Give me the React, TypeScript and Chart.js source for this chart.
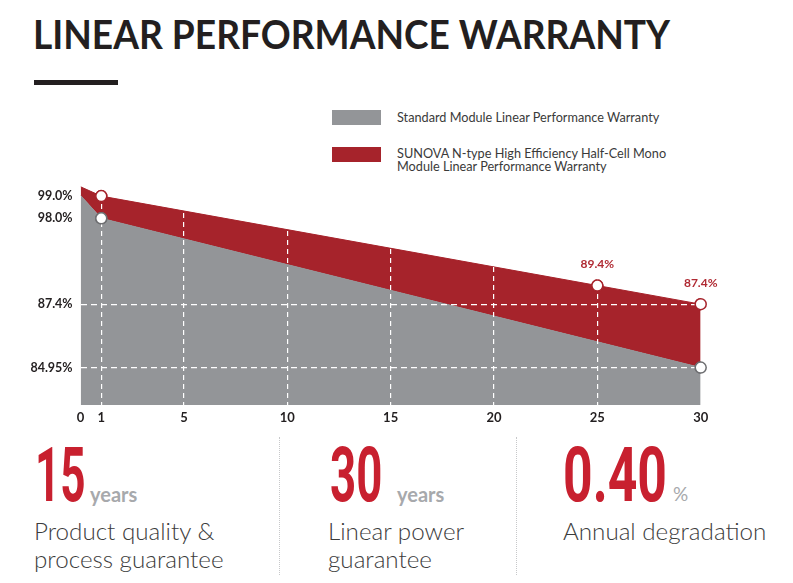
import React, { useEffect, useRef } from "react";
import { Chart, registerables } from "chart.js";

Chart.register(...registerables);

// ---- data ----
const sunovaYears = [0, 1, 25, 30];
const sunovaValues = [100, 99, 89.4, 87.4];
const sunovaPointLabels = ["", "", "89.4%", "87.4%"];
const standardYears = [0, 1, 30];
const standardValues = [100, 98, 84.95];
const xTickValues = [0, 1, 5, 10, 15, 20, 25, 30];
const sunovaTickValues = [99, 87.4];
const sunovaTickLabels = ["99.0%", "87.4%"];
const standardTickValues = [98, 84.95];
const standardTickLabels = ["98.0%", "84.95%"];
const legendLabels = [
  "Standard Module Linear Performance Warranty",
  "SUNOVA N-type High Efficiency Half-Cell Mono Module Linear Performance Warranty",
];
const statValues = ["15", "30", "0.40"];
const statUnits = ["years", "years", "%"];
const statLabels = [
  ["Product quality &", "process guarantee"],
  ["Linear power", "guarantee"],
  ["Annual degradation"],
];

const GRAY = "#939598";
const RED = "#a6232b";
const INK = "#231f20";

const overlayPlugin = {
  id: "overlay",
  afterDraw(chart: any) {
    const ctx = chart.ctx;
    const area = chart.chartArea;
    // markers on top of the grid
    chart.data.datasets.forEach((_: any, i: number) => {
      chart
        .getDatasetMeta(i)
        .data.forEach((p: any) => p.draw(ctx, { left: 0, top: 0, right: chart.width, bottom: chart.height }));
    });
    ctx.save();
    ctx.font = "bold 12.5px Lato";
    ctx.fillStyle = INK;
    ctx.textAlign = "right";
    ctx.textBaseline = "middle";
    sunovaTickValues.forEach((v, i) =>
      ctx.fillText(sunovaTickLabels[i], area.left - 8, chart.scales.ySun.getPixelForValue(v))
    );
    standardTickValues.forEach((v, i) =>
      ctx.fillText(standardTickLabels[i], area.left - 8, chart.scales.yStd.getPixelForValue(v))
    );
    ctx.font = "bold 12px Lato";
    ctx.fillStyle = "#b02a33";
    ctx.textAlign = "center";
    chart.getDatasetMeta(1).data.forEach((p: any, i: number) => {
      if (sunovaPointLabels[i]) ctx.fillText(sunovaPointLabels[i], p.x, p.y - 21);
    });
    ctx.restore();
  },
};

function WarrantyChart() {
  const ref = useRef<HTMLCanvasElement>(null);
  useEffect(() => {
    if (!ref.current) return;
    Chart.defaults.font.family = "Lato";
    const chart = new Chart(ref.current, {
      type: "line",
      data: {
        datasets: [
          {
            label: legendLabels[0],
            data: standardYears.map((x, i) => ({ x, y: standardValues[i] })),
            yAxisID: "yStd",
            backgroundColor: GRAY,
            borderColor: GRAY,
            borderWidth: 1,
            fill: "start",
            tension: 0,
            pointRadius: (c: any) => (c.dataIndex === 0 ? 0 : 5.5),
            pointBackgroundColor: "#ffffff",
            pointBorderColor: "#6d6e71",
            pointBorderWidth: 1.5,
          },
          {
            label: legendLabels[1],
            data: sunovaYears.map((x, i) => ({ x, y: sunovaValues[i] })),
            yAxisID: "ySun",
            backgroundColor: RED,
            borderColor: RED,
            borderWidth: 1,
            fill: 0,
            tension: 0,
            pointRadius: (c: any) => (c.dataIndex === 0 ? 0 : 5.5),
            pointBackgroundColor: "#ffffff",
            pointBorderColor: RED,
            pointBorderWidth: 1.5,
          },
        ],
      },
      options: {
        animation: false,
        responsive: false,
        events: [],
        layout: { padding: { left: 80.6, right: 92.3, top: 5, bottom: 0 } },
        plugins: { legend: { display: false }, tooltip: { enabled: false } },
        scales: {
          x: {
            type: "linear",
            min: 0,
            max: 30,
            afterBuildTicks: (s: any) => {
              s.ticks = xTickValues.map((value) => ({ value }));
            },
            afterFit: (s: any) => {
              s.height = 25;
            },
            ticks: {
              autoSkip: false,
              maxRotation: 0,
              padding: 5,
              color: INK,
              font: { family: "Lato", size: 13, weight: "bold" },
              callback: (v: any) => String(v),
            },
            grid: {
              z: 1,
              drawTicks: false,
              lineWidth: 1.2,
              color: (c: any) =>
                c.tick && (c.tick.value === 0 || c.tick.value === 30) ? "rgba(0,0,0,0)" : "#ffffff",
            },
            border: { display: false, dash: [5, 4] },
          },
          ySun: {
            type: "linear",
            position: "left",
            min: 76.58,
            max: 101.05,
            afterBuildTicks: (s: any) => {
              s.ticks = sunovaTickValues.map((value) => ({ value }));
            },
            afterFit: (s: any) => {
              s.width = 0;
            },
            ticks: { display: false },
            grid: {
              z: 1,
              drawTicks: false,
              lineWidth: 1.2,
              color: (c: any) => (c.tick && c.tick.value === 87.4 ? "#ffffff" : "rgba(0,0,0,0)"),
            },
            border: { display: false, dash: [6, 4] },
          },
          yStd: {
            type: "linear",
            position: "left",
            min: 81.68,
            max: 101.61,
            afterBuildTicks: (s: any) => {
              s.ticks = standardTickValues.map((value) => ({ value }));
            },
            afterFit: (s: any) => {
              s.width = 0;
            },
            ticks: { display: false },
            grid: {
              z: 1,
              drawTicks: false,
              lineWidth: 1.2,
              color: (c: any) => (c.tick && c.tick.value === 84.95 ? "#ffffff" : "rgba(0,0,0,0)"),
            },
            border: { display: false, dash: [6, 4] },
          },
        },
      },
      plugins: [overlayPlugin],
    } as any);
    return () => chart.destroy();
  }, []);
  return (
    <canvas
      ref={ref}
      width={793}
      height={260}
      style={{ position: "absolute", left: 0, top: 170, width: 793, height: 260 }}
    />
  );
}

const statLeft = [35, 330, 563];
const statScale = [0.58, 0.6, 0.68];
const unitLeft = [90, 397, 673];
const labelLeft = [34, 328, 563];

export default function App() {
  return (
    <div
      style={{
        position: "absolute",
        left: 0,
        top: 0,
        width: 793,
        height: 583,
        overflow: "hidden",
        background: "#ffffff",
        fontFamily: "Lato, sans-serif",
      }}
    >
      <div
        style={{
          position: "absolute",
          left: 33,
          top: 8.8,
          fontFamily: "Lato",
          fontWeight: 700,
          fontSize: 41,
          lineHeight: 1.2,
          color: INK,
          whiteSpace: "nowrap",
          transform: "scaleX(0.905)",
          transformOrigin: "left top",
        }}
      >
        LINEAR PERFORMANCE WARRANTY
      </div>
      <div style={{ position: "absolute", left: 34, top: 80, width: 84, height: 5, background: INK }} />

      <div style={{ position: "absolute", left: 332, top: 110, width: 49, height: 15, background: GRAY }} />
      <div
        style={{
          position: "absolute",
          left: 397,
          top: 110,
          fontSize: 12.7,
          lineHeight: "15px",
          color: "#3a3a3a",
          whiteSpace: "nowrap",
        }}
      >
        {legendLabels[0]}
      </div>
      <div style={{ position: "absolute", left: 332, top: 147, width: 49, height: 15, background: RED }} />
      <div
        style={{
          position: "absolute",
          left: 397,
          top: 146.8,
          width: 290,
          fontSize: 12.7,
          lineHeight: "13.4px",
          color: "#3a3a3a",
        }}
      >
        {legendLabels[1]}
      </div>

      <WarrantyChart />

      <div style={{ position: "absolute", left: 279, top: 437, height: 138, borderLeft: "1px dotted #c7c8ca" }} />
      <div style={{ position: "absolute", left: 516, top: 437, height: 138, borderLeft: "1px dotted #c7c8ca" }} />

      {statValues.map((v, i) => (
        <React.Fragment key={i}>
          <div
            style={{
              position: "absolute",
              left: statLeft[i],
              top: 437,
              fontFamily: "Roboto",
              fontWeight: 700,
              fontSize: 76,
              lineHeight: 1,
              color: "#c8202f",
              transform: `scaleX(${statScale[i]})`,
              transformOrigin: "left top",
              whiteSpace: "nowrap",
            }}
          >
            {v}
          </div>
          <div
            style={{
              position: "absolute",
              left: unitLeft[i],
              top: i === 2 ? 483 : 482,
              fontFamily: "Lato",
              fontWeight: i === 2 ? 400 : 700,
              fontSize: i === 2 ? 19 : 20,
              lineHeight: 1.2,
              color: "#a7a9ac",
              whiteSpace: "nowrap",
            }}
          >
            {statUnits[i]}
          </div>
          <div
            style={{
              position: "absolute",
              left: labelLeft[i],
              top: 516.5,
              fontFamily: "Lato",
              fontWeight: 300,
              fontSize: 24.2,
              lineHeight: "28.7px",
              color: "#3c3c3c",
              whiteSpace: "nowrap",
            }}
          >
            {statLabels[i].map((l, j) => (
              <div key={j}>{l}</div>
            ))}
          </div>
        </React.Fragment>
      ))}
    </div>
  );
}
